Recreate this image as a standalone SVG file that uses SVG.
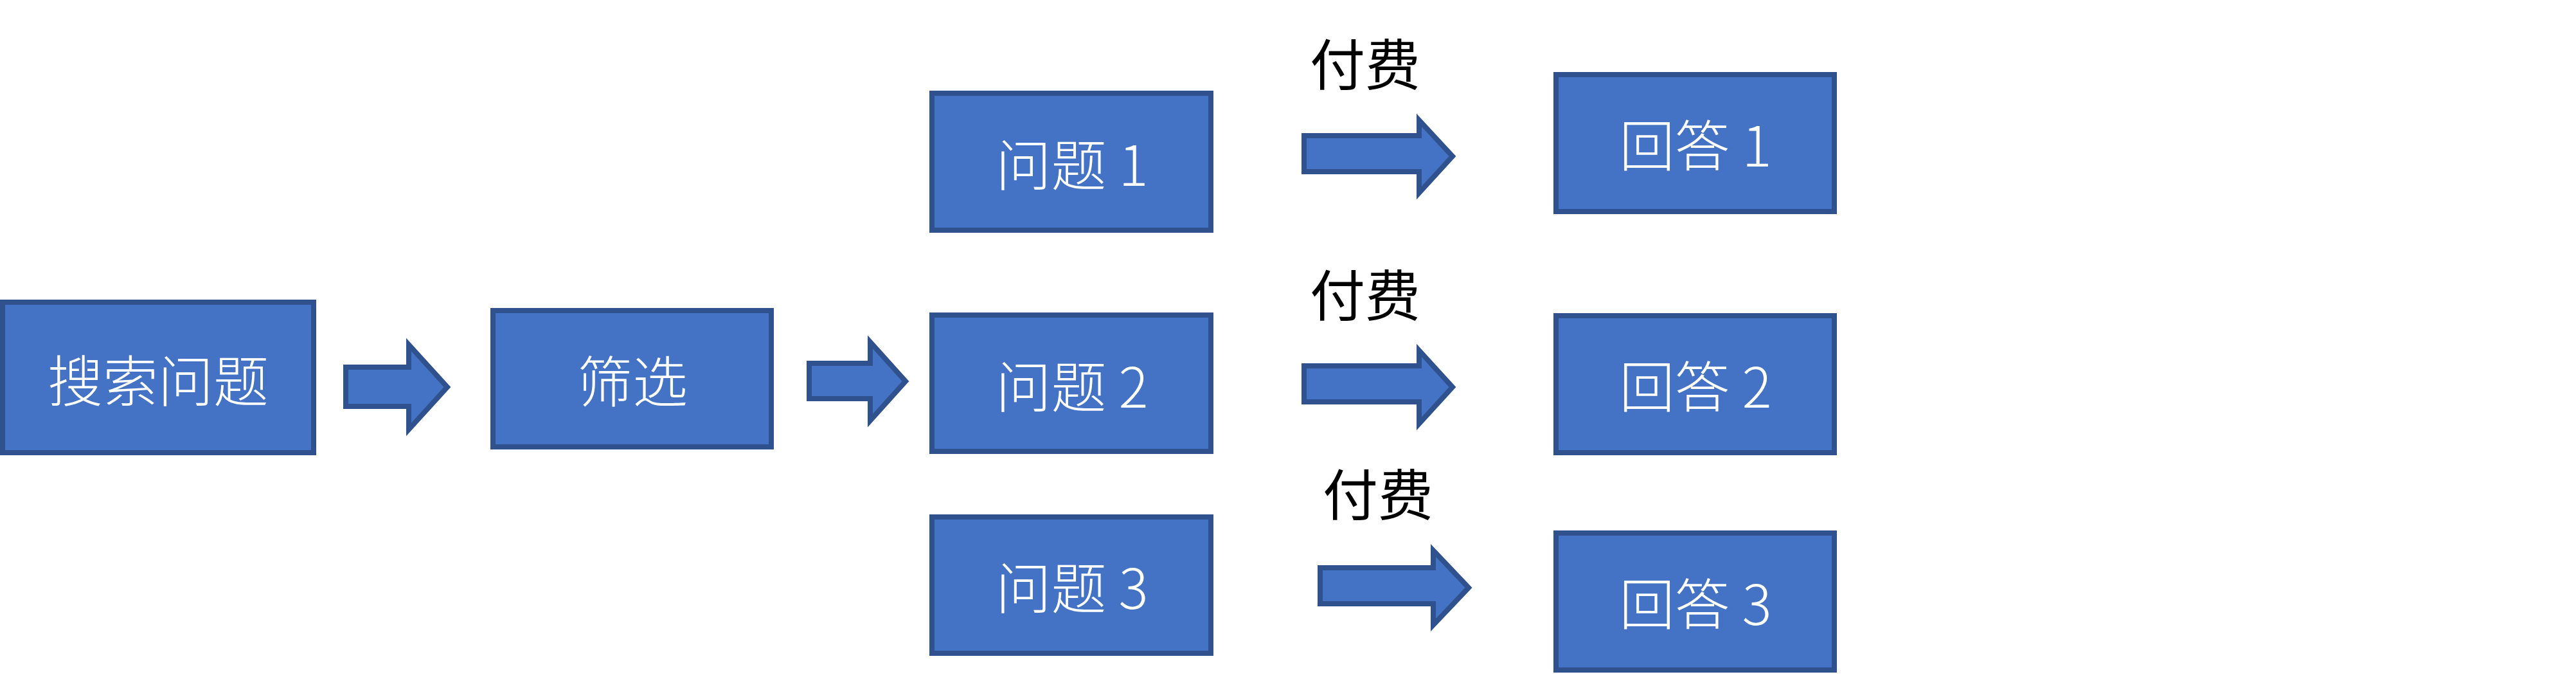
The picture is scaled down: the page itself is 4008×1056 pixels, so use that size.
<svg xmlns="http://www.w3.org/2000/svg" width="4008" height="1056" viewBox="0 0 4008 1056">
<style>
.box{fill:#4472C4;stroke:#2F528F;stroke-width:8}
.arr{fill:#4472C4;stroke:#2F528F;stroke-width:8;stroke-linejoin:miter}
.lbl{font-family:"Noto Sans CJK SC","Microsoft YaHei",sans-serif;font-size:86px;font-weight:300;fill:#FFFFFF;text-anchor:middle;dominant-baseline:central}
.pay{font-family:"Noto Sans CJK SC","Microsoft YaHei",sans-serif;font-size:86px;font-weight:400;fill:#000000;text-anchor:middle;dominant-baseline:central}
</style>
<rect width="4008" height="1056" fill="#FFFFFF"/>
<g id="connectors">
<polygon class="arr" points="538,571 636,571 636,536 696,602 636,668 636,632 538,632"/>
<polygon class="arr" points="1259,565 1354,565 1354,532 1409,593 1354,654 1354,620 1259,620"/>
<polygon class="arr" points="2029,211 2208,211 2208,187 2260,243 2208,300 2208,267 2029,267"/>
<polygon class="arr" points="2029,569 2208,569 2208,545 2260,602 2208,659 2208,625 2029,625"/>
<polygon class="arr" points="2054,883 2230,883 2230,856 2285,914 2230,972 2230,939 2054,939"/>
<text class="pay" x="2124" y="95">付费</text>
<text class="pay" x="2124" y="454">付费</text>
<text class="pay" x="2144" y="764">付费</text>
</g>
<g id="search"><rect class="box" x="4" y="470" width="484" height="234"/><text class="lbl" x="246" y="587">搜索问题</text></g>
<g id="filter"><rect class="box" x="767" y="483" width="433" height="212"/><text class="lbl" x="984" y="588">筛选</text></g>
<g id="q1"><rect class="box" x="1450" y="145" width="434" height="213"/><text class="lbl" x="1668" y="251">问题 1</text></g>
<g id="q2"><rect class="box" x="1450" y="490" width="434" height="212"/><text class="lbl" x="1668" y="596">问题 2</text></g>
<g id="q3"><rect class="box" x="1450" y="804" width="434" height="212"/><text class="lbl" x="1668" y="909">问题 3</text></g>
<g id="a1"><rect class="box" x="2421" y="116" width="433" height="213"/><text class="lbl" x="2638" y="221">回答 1</text></g>
<g id="a2"><rect class="box" x="2421" y="491" width="433" height="213"/><text class="lbl" x="2638" y="596">回答 2</text></g>
<g id="a3"><rect class="box" x="2421" y="829" width="433" height="213"/><text class="lbl" x="2638" y="934">回答 3</text></g>
</svg>
